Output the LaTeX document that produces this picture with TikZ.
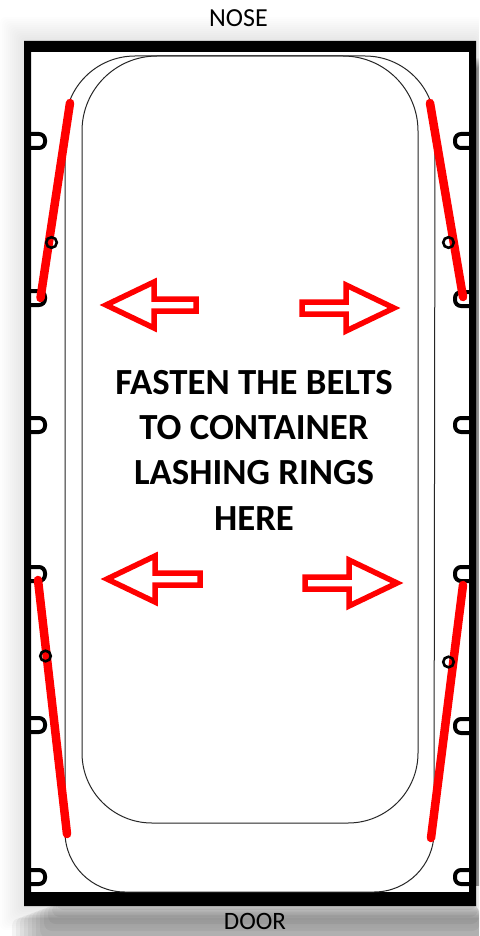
\documentclass[tikz,border=0pt]{standalone}
\usepackage{fontspec}
\setmainfont{Carlito}
\tikzset{
  x=1pt,y=-1pt,
  wall/.style={draw=black,line width=4pt,line cap=butt,line join=round,rounded corners=6pt},
  van/.style={draw=black!85,line width=1pt},
  belt/.style={draw=red,line width=8.5pt,line cap=round},
  ringc/.style={draw=black,line width=2.6pt},
  redarrowline/.style={draw=red,line width=5.5pt,line join=miter,miter limit=10},
  endlabel/.style={font=\fontsize{26}{26}\selectfont,text=black,inner sep=0pt},
  hd/.style={font=\fontsize{36.8}{45.3}\selectfont\bfseries,text=black,inner sep=0pt,align=center}
}
\newcommand{\ringL}[1]{\draw[wall] (30,#1-7) -- (45,#1-7) -- (45,#1+7) -- (30,#1+7);}
\newcommand{\ringR}[1]{\draw[wall] (470,#1-7) -- (455,#1-7) -- (455,#1+7) -- (470,#1+7);}
\newcommand{\redarr}[4]{%
  \draw[redarrowline] (#1+#3*6,#2)
    -- ++(#3*48,-23) -- ++(0,17) -- ++(#3*#4,0) -- ++(0,12) -- ++(#3*-#4,0) -- ++(0,17) -- cycle;}
\begin{document}
\begin{tikzpicture}
\useasboundingbox (0,0) rectangle (479,936);
\fill[white] (0,0) rectangle (479,936);
\begin{scope}
\clip (0,0) rectangle (479,936);
% soft glow around the container
\foreach \i in {1,...,12}{
  \fill[black,opacity=.006,rounded corners=6pt] (24-2*\i,41-2*\i) rectangle (476+\i,906+2*\i);
}
% shadow under the container
\foreach \i in {1,...,12}{
  \fill[black,opacity=.045,rounded corners=8pt] (60-4*\i,900+1.5*\i) rectangle (476+\i,903+7*\i);
}
% shadow on the right
\foreach \i in {1,...,12}{
  \fill[black,opacity=.045] (470,70-\i) rectangle (476+\i,886);
}
\end{scope}
% container
\fill[white] (24,41) rectangle (476,906);
\fill[black] (24,41) rectangle (476,52) (24,892) rectangle (476,906)
  (24,41) rectangle (31,906) (469,41) rectangle (476,906);
% rings on the walls
\foreach \y in {141,298,425,574,725,877}{\ringL{\y}}
\foreach \y in {141,299,425,574,726,877}{\ringR{\y}}
% load outlines
\draw[van] (135,56) -- (365,56) arc[start angle=90,end angle=0,radius=70pt] -- (434,832)
  arc[start angle=0,end angle=-90,radius=60pt] -- (125,892)
  arc[start angle=270,end angle=180,radius=60pt] -- (65,126)
  arc[start angle=180,end angle=90,radius=70pt] -- cycle;
\draw[van] (157,56) -- (343,56) arc[start angle=90,end angle=0,radius=75pt] -- (418,753)
  arc[start angle=0,end angle=-90,radius=70pt] -- (152,823)
  arc[start angle=270,end angle=180,radius=70pt] -- (82,131)
  arc[start angle=180,end angle=90,radius=75pt] -- cycle;
% belts
\draw[belt] (70,103) -- (40.5,298);
\draw[belt] (430,103) -- (463,297);
\draw[belt] (38,580) -- (67,834);
\draw[belt] (463,585) -- (431,838);
% tensioners
\draw[ringc] (51.5,242.5) circle[radius=5.3pt];
\draw[ringc] (448.5,242.5) circle[radius=5.3pt];
\draw[ringc] (45.5,656) circle[radius=5.3pt];
\draw[ringc] (448.5,662) circle[radius=5.3pt];
% arrows
\redarr{100}{305}{1}{42}
\redarr{400}{308}{-1}{44}
\redarr{101}{579}{1}{45}
\redarr{403}{583}{-1}{44}
% text
\node[endlabel] (nose) at (238.5,18) {NOSE};
\node[endlabel,font=\fontsize{25}{25}\selectfont] (door) at (255,921.5) {DOOR};
\node[hd] (msg) at (254,450) {FASTEN THE BELTS\\TO CONTAINER\\LASHING RINGS\\HERE};
\end{tikzpicture}
\end{document}
